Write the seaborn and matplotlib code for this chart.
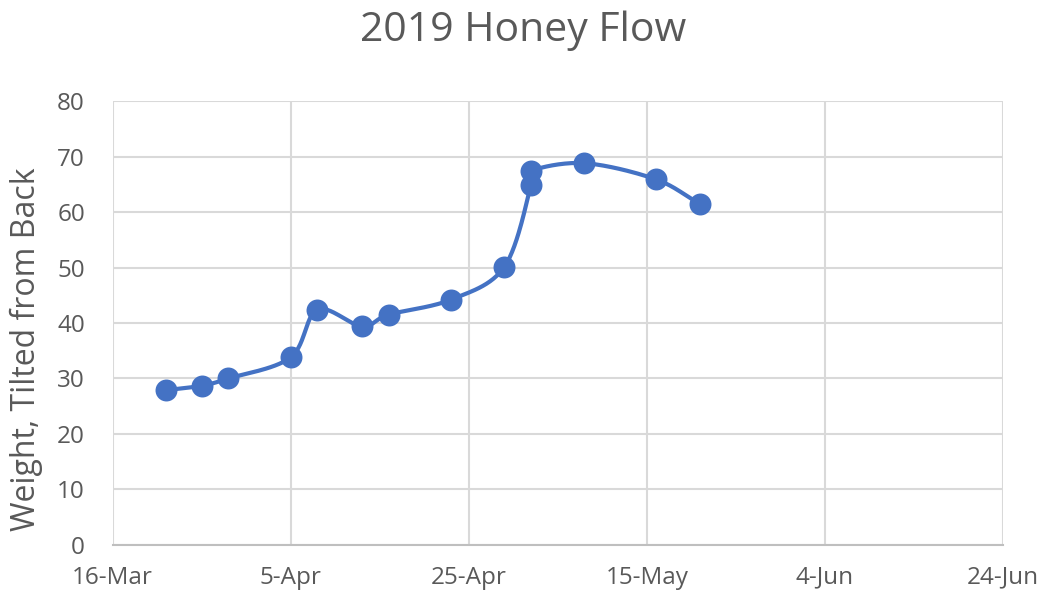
import numpy as np
import pandas as pd
import matplotlib
matplotlib.use("Agg")
import matplotlib.pyplot as plt
import matplotlib.dates as mdates
import seaborn as sns

dates = ["2019-03-22", "2019-03-26", "2019-03-29", "2019-04-05", "2019-04-08",
         "2019-04-13", "2019-04-16", "2019-04-23", "2019-04-29", "2019-05-02",
         "2019-05-02", "2019-05-08", "2019-05-16", "2019-05-21"]
weights = [27.9, 28.7, 30.0, 33.8, 42.4, 39.4, 41.5, 44.2, 50.1, 64.9, 67.4, 68.8, 65.9, 61.4]
x_ticks = ["2019-03-16", "2019-04-05", "2019-04-25", "2019-05-15", "2019-06-04", "2019-06-24"]
y_ticks = [0, 10, 20, 30, 40, 50, 60, 70, 80]

title = "2019 Honey Flow"
ylabel = "Weight, Tilted from Back"

df = pd.DataFrame({"date": pd.to_datetime(dates), "weight": weights})

sns.set_theme(style="white")
plt.rcParams["font.family"] = ["Open Sans", "DejaVu Sans"]

color = "#4472C4"
grid_c = "#D9D9D9"
text_c = "#595959"

fig = plt.figure(figsize=(10.46, 6.06), dpi=100)
ax = fig.add_axes([0.1077, 0.1007, 0.851, 0.7326])

# smoothed line (Catmull-Rom through the data points, index-parameterised)
xn = mdates.date2num(df["date"]).astype(float)
yn = df["weight"].to_numpy(dtype=float)
P = np.column_stack([xn, yn])
Pe = np.vstack([2 * P[0] - P[1], P, 2 * P[-1] - P[-2]])
segs = []
for i in range(1, len(Pe) - 2):
    p0, p1, p2, p3 = Pe[i - 1], Pe[i], Pe[i + 1], Pe[i + 2]
    t = np.linspace(0, 1, 30)[:, None]
    c = 0.5 * ((2 * p1) + (-p0 + p2) * t + (2 * p0 - 5 * p1 + 4 * p2 - p3) * t ** 2
               + (-p0 + 3 * p1 - 3 * p2 + p3) * t ** 3)
    segs.append(c)
curve = np.vstack(segs)
ax.plot(curve[:, 0], curve[:, 1], color=color, lw=3.0, zorder=3, solid_capstyle="round")

sns.scatterplot(data=df, x="date", y="weight", ax=ax, color=color, s=250,
                edgecolor=color, linewidth=0, zorder=4, legend=False)

ax.set_xlim(pd.Timestamp(x_ticks[0]), pd.Timestamp(x_ticks[-1]))
ax.set_ylim(0, 80)
ax.set_xticks(pd.to_datetime(x_ticks))
ax.set_xticklabels([pd.Timestamp(d).strftime("%-d-%b") for d in x_ticks])
ax.set_yticks(y_ticks)
ax.set_yticklabels([str(v) for v in y_ticks])

ax.grid(True, color=grid_c, lw=1.5)
ax.set_axisbelow(True)
for s in ["top", "right", "left"]:
    ax.spines[s].set_visible(False)
ax.spines["bottom"].set_color("#BFBFBF")
ax.spines["bottom"].set_linewidth(1.5)
ax.tick_params(axis="both", length=0, labelsize=17.5, colors=text_c)
ax.tick_params(axis="x", pad=15)
ax.tick_params(axis="y", pad=20)

ax.set_xlabel("")
ax.set_ylabel(ylabel, fontsize=23, color=text_c)
ax.yaxis.set_label_coords(-0.078, 0.44)
fig.suptitle(title, fontsize=29.5, color=text_c, y=0.982)

fig.savefig("out.png", dpi=100)
